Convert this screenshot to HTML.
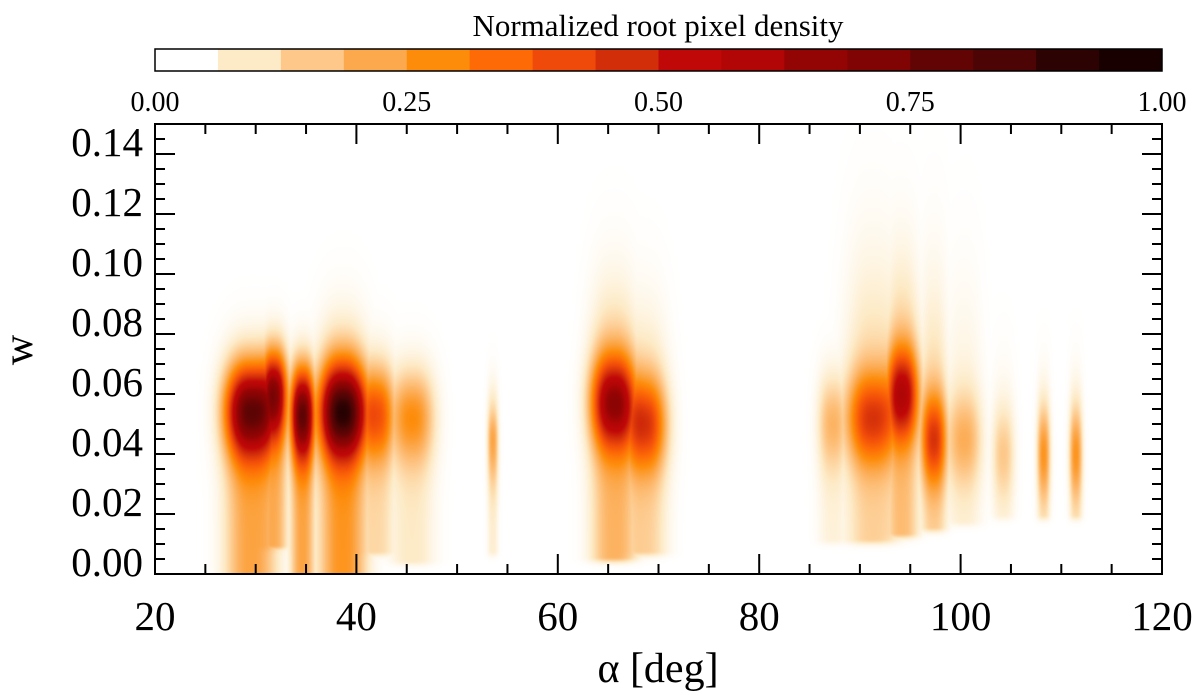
<!DOCTYPE html>
<html><head><meta charset="utf-8"><style>
body{margin:0;background:#fff;}
#wrap{position:relative;width:1200px;height:695px;overflow:hidden;font-family:"Liberation Serif",serif;}
canvas{position:absolute;left:155px;top:124px;}
svg{position:absolute;left:0;top:0;}
</style></head><body>
<div id="wrap">
<canvas id="heat" width="1007" height="450"></canvas>
<svg id="axes" width="1200" height="695"></svg>
</div>
<script>
// colormap (16 levels)
const cmapColors=["#ffffff","#fdebc8","#fdc88a","#fca94e","#fd8c0a","#fd6a06","#f04a0a","#d22e0a","#c00808","#b20606","#930404","#800404","#620404","#4c0404","#2c0202","#180000"];
const cbarTicks=[0,0.25,0.5,0.75,1];
const cbarTickLabels=["0.00","0.25","0.50","0.75","1.00"];
const xTicks=[20,40,60,80,100,120];
const yTicks=[0,0.02,0.04,0.06,0.08,0.10,0.12,0.14];
// density components
const compAlpha=[29.5,31.8,34.6,38.6,42.0,45.5,53.5,65.5,68.6,87.2,91.2,94.2,97.3,100.3,104.2,108.2,111.4];
const compW    =[0.054,0.060,0.053,0.054,0.053,0.052,0.045,0.057,0.050,0.050,0.052,0.060,0.045,0.045,0.040,0.040,0.040];
const compHalf =[2.4,1.2,1.1,2.2,1.6,2.0,0.5,2.1,2.0,1.3,2.4,1.5,1.2,1.6,1.0,0.6,0.6];
const compTop  =[0.085,0.080,0.080,0.095,0.085,0.080,0.057,0.112,0.105,0.080,0.130,0.125,0.122,0.120,0.085,0.078,0.078];
const compBot  =[0.000,0.010,0.000,0.000,0.008,0.005,0.008,0.006,0.008,0.012,0.012,0.014,0.016,0.018,0.020,0.020,0.020];
const compPeak =[0.86,0.70,0.85,1.00,0.40,0.28,0.22,0.72,0.48,0.18,0.48,0.62,0.48,0.20,0.14,0.26,0.26];

const X0=155,X1=1162,Y0=574,Y1=124;
const xs=a=>X0+(a-20)/100*(X1-X0);
const ys=w=>Y0-(w-0)/0.15*(Y0-Y1);
const xinv=px=>20+(px-X0)/(X1-X0)*100;
const yinv=py=>(Y0-py)/(Y0-Y1)*0.15;
function hex(c){return [parseInt(c.slice(1,3),16),parseInt(c.slice(3,5),16),parseInt(c.slice(5,7),16)];}
const rgb=cmapColors.map(hex);
function cmap(v){v=Math.max(0,Math.min(1,v));const f=v*(rgb.length-1);const i=Math.min(rgb.length-2,Math.floor(f));const t=f-i;
 return rgb[i].map((c,k)=>c+(rgb[i+1][k]-c)*t);}

// heatmap
const cv=document.getElementById('heat');const ctx=cv.getContext('2d');
const img=ctx.createImageData(cv.width,cv.height);
for(let py=0;py<cv.height;py++){
 const w=yinv(py+Y1);
 for(let px=0;px<cv.width;px++){
  const a=xinv(px+X0);let v=0,s=0;
  for(let k=0;k<compAlpha.length;k++){
   const dx=(a-compAlpha[k])/compHalf[k];if(Math.abs(dx)>3)continue;
   const hx=Math.exp(-Math.pow(Math.abs(dx),2.5)*0.9);
   let env;
   if(w<compBot[k])env=Math.exp(-Math.pow((compBot[k]-w)/0.002,2));
   else if(w<compW[k])env=1;
   else env=Math.exp(-Math.pow((w-compW[k])/((compTop[k]-compW[k])*0.6),2));
   const core=Math.exp(-Math.pow((w-compW[k])/0.015,2));
   const d=compPeak[k]*hx*(0.26*env+0.74*core*(w<compBot[k]?env:1));
   v=Math.max(v,d);s+=d;
  }
  v=v+0.25*(s-v);
  const c=cmap(v*0.95);const o=(py*cv.width+px)*4;
  img.data[o]=c[0];img.data[o+1]=c[1];img.data[o+2]=c[2];img.data[o+3]=255;
 }
}
ctx.putImageData(img,0,0);

// axes
const svg=document.getElementById('axes');const NS='http://www.w3.org/2000/svg';
function el(t,at,txt){const e=document.createElementNS(NS,t);for(const k in at)e.setAttribute(k,at[k]);if(txt!==undefined)e.textContent=txt;svg.appendChild(e);return e;}
let e=el('rect',{x:X0,y:Y1,width:X1-X0,height:Y0-Y1,fill:'none',stroke:'#000','stroke-width':2});


for(let a=20;a<=120;a+=5){const maj=a%20===0;const L=maj?20:10;
 e=el('line',{x1:xs(a),x2:xs(a),y1:Y0,y2:Y0-L,stroke:'#000','stroke-width':2});
 
 
 e=el('line',{x1:xs(a),x2:xs(a),y1:Y1,y2:Y1+L,stroke:'#000','stroke-width':2});
 
 }
for(let i=0;i<=30;i++){const w=i*0.005;const maj=i%4===0;const L=maj?20:10;
 e=el('line',{x1:X0,x2:X0+L,y1:ys(w),y2:ys(w),stroke:'#000','stroke-width':2});
 
 
 e=el('line',{x1:X1,x2:X1-L,y1:ys(w),y2:ys(w),stroke:'#000','stroke-width':2});
 
 }
xTicks.forEach(a=>{e=el('text',{x:xs(a),y:630,'font-size':41,'text-anchor':'middle'},String(a));
 
 });
yTicks.forEach(w=>{e=el('text',{x:143,y:ys(w)+2,'font-size':41,'text-anchor':'end'},w.toFixed(2));
 
 });
e=el('text',{x:658,y:682,'font-size':42,'text-anchor':'middle'},'α [deg]');


e=el('text',{x:0,y:0,'font-size':42,'text-anchor':'middle',transform:'translate(32,350) rotate(-90)'},'w');


// colorbar
const CB0=155,CB1=1162,CBy=49,CBh=22;const n=cmapColors.length;
cmapColors.forEach((c,i)=>{e=el('rect',{x:CB0+i*(CB1-CB0)/n,y:CBy,width:(CB1-CB0)/n+0.5,height:CBh,fill:c});
 
 });
e=el('rect',{x:CB0,y:CBy,width:CB1-CB0,height:CBh,fill:'none',stroke:'#000','stroke-width':1.5});


cbarTicks.forEach((t,i)=>{e=el('text',{x:CB0+t*(CB1-CB0),y:111,'font-size':28,'text-anchor':'middle'},cbarTickLabels[i]);
 
 });
e=el('text',{x:658,y:36,'font-size':31,'text-anchor':'middle'},'Normalized root pixel density');


</script>
</body></html>
